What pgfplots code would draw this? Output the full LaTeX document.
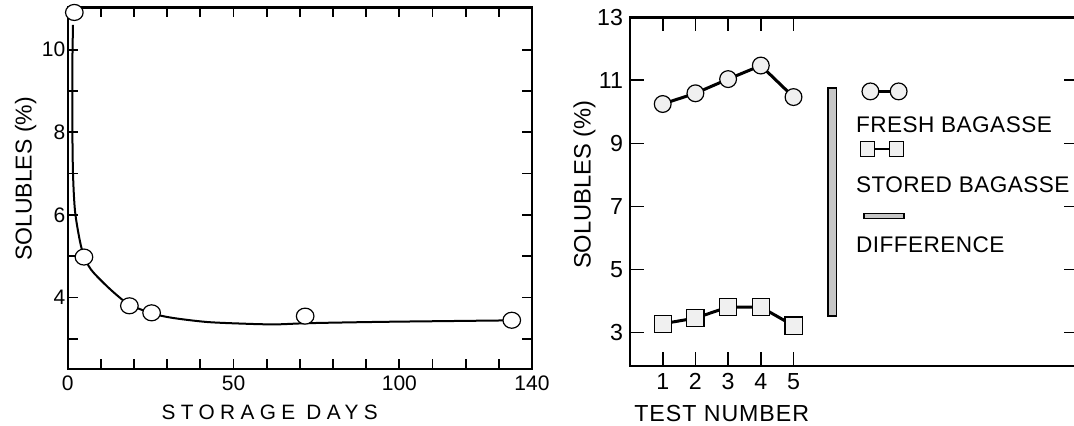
\documentclass[border=0pt]{standalone}
\usepackage{fontspec}
\setmainfont{Liberation Sans}
\newfontfamily\wideLS{Liberation Sans}[LetterSpace=26]
\newfontfamily\legLS{Liberation Sans}[LetterSpace=2]
\newfontfamily\testLS{Liberation Sans}[LetterSpace=4]
\usepackage{pgfplots}
\pgfplotsset{compat=1.18}

\begin{document}
\begin{tikzpicture}
\useasboundingbox (0,0) rectangle (537pt,212.5pt);

% left panel: solubles vs storage days
\begin{axis}[
  at={(33.85pt,28pt)}, anchor=south west,
  scale only axis, width=232.15pt, height=180.75pt,
  xmin=0, xmax=140, ymin=2.27, ymax=11.02,
  clip=false,
  axis line style={line width=1.1pt},
  tick align=inside, major tick length=5pt,
  tick style={line width=0.9pt, black},
  xtick={0,10,...,140}, xticklabels={0,,,,,50,,,,,100,,,,140},
  ytick={3,...,10}, yticklabels={,4,,6,,8,,10},
  /pgf/number format/assume math mode=true,
  ticklabel style={font=\fontsize{10.5}{12}\selectfont},
  yticklabel style={inner xsep=1pt},
  xlabel={\wideLS STORAGE DAYS},
  xlabel style={at={(axis description cs:0.435,-0.139)}, anchor=base, font=\fontsize{10.4}{12}\selectfont},
  ylabel={SOLUBLES (\%)},
  ylabel style={at={(axis description cs:-0.0775,0.5256)}, anchor=base, font=\fontsize{11.5}{13}\selectfont},
]
\addplot[black, line width=1pt, smooth] coordinates {
  (1.6,10.6) (1.4,9.6) (1.4,8.2) (1.6,7.0) (2.2,6.1) (3.6,5.4) (4.9,5.0)
  (7,4.68) (10.6,4.37) (14.5,4.08) (18.6,3.83) (25.3,3.62) (31.4,3.51)
  (41.7,3.41) (52.1,3.37) (62.4,3.35) (72.8,3.38) (93.5,3.41) (114.3,3.43) (136.5,3.45)
};
\addplot[only marks, mark=*, mark size=4pt,
  mark options={fill=white, draw=black, line width=0.6pt, xscale=1.1}] coordinates {
  (2,10.9) (4.9,4.98) (18.6,3.8) (25.3,3.63) (71.6,3.55) (133.9,3.45)
};
\end{axis}

% right panel: fresh vs stored bagasse
\begin{axis}[
  at={(315pt,29.5pt)}, anchor=south west,
  scale only axis, width=224pt, height=174.35pt,
  xmin=0, xmax=13.7, ymin=1.94, ymax=13,
  clip=false,
  axis line style={line width=1.2pt},
  tick align=inside, major tick length=7pt,
  tick style={line width=0.9pt, black},
  xtick={1,...,5}, xticklabels={1,2,3,4,5},
  ytick={3,5,...,13}, yticklabels={3,5,7,9,11,13},
  /pgf/number format/assume math mode=true,
  ticklabel style={font=\fontsize{11.6}{13}\selectfont},
  xlabel={\testLS TEST NUMBER},
  xlabel style={at={(axis description cs:0.2047,-0.16)}, anchor=base, font=\fontsize{11.6}{13}\selectfont},
  ylabel={SOLUBLES (\%)},
  ylabel style={at={(axis description cs:-0.088,0.52)}, anchor=base, font=\fontsize{11.85}{13}\selectfont},
  legend cell align=left,
  legend style={at={(axis description cs:0.5045,0.7227)}, anchor=north west,
    draw=none, fill=none, inner sep=0pt, outer sep=0pt,
    row sep=21pt, column sep=0pt,
    font=\fontsize{11.3}{13}\selectfont\legLS,
    nodes={inner sep=0pt, text height=9pt, text depth=0pt}},
]
\addplot[black, line width=1.5pt, mark=*, mark size=4.2pt,
  mark options={fill=gray!12, draw=black, line width=0.6pt},
  legend image code/.code={
    \draw[overlay, line width=1.2pt] (7.2pt,15.8pt) -- (21.3pt,15.8pt);
    \draw[overlay, fill=gray!12, line width=0.6pt] (7.2pt,15.8pt) circle (4.2pt) (21.3pt,15.8pt) circle (4.2pt);
  }] coordinates {
  (1,10.25) (2,10.59) (3,11.04) (4,11.47) (5,10.47)
};
\addlegendentry{FRESH BAGASSE}
\addplot[black, line width=1.5pt, mark=square*, mark size=4.3pt,
  mark options={fill=gray!12, draw=black, line width=0.6pt},
  legend image code/.code={
    \draw[overlay, line width=1.2pt] (5.8pt,17pt) -- (20.3pt,17pt);
    \draw[overlay, fill=gray!12, line width=0.6pt] (2.2pt,13.4pt) rectangle ++(7.2pt,7.2pt) (16.7pt,13.4pt) rectangle ++(7.2pt,7.2pt);
  }] coordinates {
  (1,3.28) (2,3.46) (3,3.81) (4,3.81) (5,3.22)
};
\addlegendentry{STORED BAGASSE}
\addplot[fill=gray!45, draw=black, line width=0.8pt,
  legend image code/.code={
    \draw[overlay, fill=gray!45, line width=0.6pt] (4pt,12.4pt) rectangle (24pt,14.9pt);
  }] coordinates {
  (6.05,3.53) (6.31,3.53) (6.31,10.75) (6.05,10.75)
} -- cycle;
\addlegendentry{DIFFERENCE}
\end{axis}
\end{tikzpicture}
\end{document}
